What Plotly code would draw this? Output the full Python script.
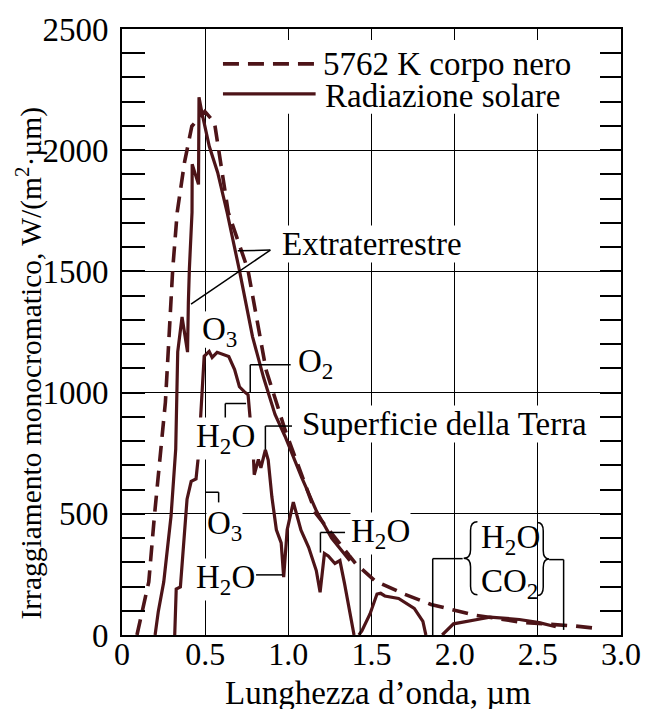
import plotly.graph_objects as go

# ---------------- data ----------------
bb_wl = [0.09, 0.123, 0.161, 0.195, 0.228, 0.261, 0.283, 0.305, 0.332, 0.376, 0.420, 0.498,
         0.556, 0.595, 0.639, 0.757, 0.827, 0.866, 0.981, 1.165, 1.405, 1.522, 1.699, 1.858,
         2.112, 2.407, 2.726, 2.845]
bb_E = [0, 96, 219, 492, 740, 961, 1233, 1510, 1744, 1951, 2099, 2160,
        2114, 1949, 1743, 1507, 1230, 1094, 845, 502, 294, 223, 168, 126,
        83, 52, 37, 28]

ext_wl = [0.199, 0.218, 0.251, 0.295, 0.323, 0.335, 0.361, 0.394, 0.399, 0.405, 0.421, 0.422,
          0.460, 0.463, 0.480, 0.525, 0.575, 0.632, 0.705, 0.785, 0.852, 0.920, 0.980, 1.080,
          1.170, 1.260, 1.370]
ext_E = [0, 96, 219, 492, 768, 1168, 1312, 1167, 1374, 1510, 1744, 1942,
         1859, 2218, 2156, 2015, 1908, 1743, 1507, 1230, 1060, 910, 820, 650,
         510, 400, 306]

sur_wl = [0.317, 0.326, 0.351, 0.370, 0.391, 0.416, 0.445, 0.459, 0.480, 0.494, 0.524, 0.542,
          0.572, 0.642, 0.677, 0.706, 0.735, 0.758, 0.790, 0.795, 0.820, 0.835, 0.862, 0.879,
          0.901, 0.928, 0.957, 0.972, 0.993, 1.030, 1.076, 1.122, 1.168, 1.191, 1.217, 1.240,
          1.280, 1.310, 1.338, 1.372, 1.395,
          None,
          1.424, 1.442, 1.491, 1.533, 1.555, 1.580, 1.663, 1.757, 1.809, 1.827,
          None,
          1.925, 1.993, 2.153, 2.212, 2.389, 2.508, 2.608]
sur_E = [0, 190, 198, 354, 560, 634, 644, 737, 960, 1150, 1170, 1145,
         1166, 1149, 1095, 1024, 1004, 991, 736, 661, 724, 690, 764, 722,
         570, 434, 380, 239, 434, 548, 432, 362, 266, 176, 336, 326,
         295, 307, 212, 87, 0,
         None,
         0, 17, 87, 169, 172, 161, 151, 110, 56, 0,
         None,
         0, 46, 66, 74, 64, 51, 34]

x_ticks = [0, 0.5, 1.0, 1.5, 2.0, 2.5, 3.0]
x_ticktext = ["0", "0.5", "1.0", "1.5", "2.0", "2.5", "3.0"]
y_ticks = [0, 500, 1000, 1500, 2000, 2500]
y_ticktext = ["0", "500", "1000", "1500", "2000", "2500"]

legend_labels = ["5762 K corpo nero", "Radiazione solare"]
x_title = "Lunghezza d’onda, µm"
y_title = "Irraggiamento monocromatico, W/(m<sup>2</sup>·µm)"

# ---------------- styling ----------------
CURVE = "#4d1418"
INK = "black"
FONT = "Liberation Serif"
FS = 33

fig = go.Figure()
fig.add_trace(go.Scatter(x=bb_wl, y=bb_E, mode="lines",
                         line=dict(color=CURVE, width=3.6, dash="16px,9px"),
                         showlegend=False, hoverinfo="skip"))
fig.add_trace(go.Scatter(x=ext_wl, y=ext_E, mode="lines",
                         line=dict(color=CURVE, width=3.2),
                         showlegend=False, hoverinfo="skip"))
fig.add_trace(go.Scatter(x=sur_wl, y=sur_E, mode="lines", connectgaps=False,
                         line=dict(color=CURVE, width=3.2),
                         showlegend=False, hoverinfo="skip"))
# invisible helper so the right-hand tick axis is drawn
fig.add_trace(go.Scatter(x=bb_wl[:1], y=bb_E[:1], yaxis="y2", mode="lines",
                         opacity=0, showlegend=False, hoverinfo="skip"))

shapes = []
def seg(x0, y0, x1, y1, w=1.5, color=INK, dash=None, layer="above"):
    d = dict(type="line", xref="x", yref="y", x0=x0, y0=y0, x1=x1, y1=y1,
             line=dict(color=color, width=w), layer=layer)
    if dash:
        d["line"]["dash"] = dash
    shapes.append(d)

def white_box(x0, x1, y0, y1):
    shapes.append(dict(type="rect", xref="x", yref="y", x0=x0, x1=x1, y0=y0, y1=y1,
                       fillcolor="white", line=dict(width=0), layer="above"))

# legend box
white_box(0.58, 2.78, 2150, 2455)
seg(0.607, 2356, 1.164, 2356, w=3.6, color=CURVE, dash="16px,9px")
seg(0.607, 2232, 1.164, 2232, w=3.2, color=CURVE)
# gap in the 0.5 grid line behind the upper O3 label
white_box(0.49, 0.51, 1185, 1335)

# Extraterrestre pointers
seg(0.892, 1588, 0.696, 1585)
seg(0.892, 1588, 0.415, 1365)
# O2 bracket
seg(0.771, 999, 0.771, 1115); seg(0.771, 1115, 1.014, 1115)
# H2O upper bracket
seg(0.621, 889, 0.621, 955); seg(0.621, 955, 0.746, 955)
# Superficie bracket
seg(0.862, 764, 0.862, 862); seg(0.862, 862, 1.022, 862)
# O3 lower bracket
seg(0.504, 589, 0.581, 589); seg(0.581, 589, 0.581, 547)
# H2O lower pointer
seg(0.806, 248, 0.965, 248)
# H2O 1.2-1.4 bracket
seg(1.193, 340, 1.193, 423); seg(1.193, 423, 1.341, 423)
seg(1.432, 0, 1.432, 318, w=1.2)
# H2O / CO2 brackets
seg(1.868, 0, 1.868, 315); seg(1.868, 315, 2.048, 315)
seg(2.568, 311, 2.655, 311); seg(2.655, 311, 2.655, 21)

def brace(x_end, x_tip, ytop, ybot, w=1.5):
    xm = (x_end + x_tip) / 2
    ym = (ytop + ybot) / 2
    k = 35
    p = (f"M {x_end},{ytop} Q {xm},{ytop} {xm},{ytop-k} L {xm},{ym+k} "
         f"Q {xm},{ym} {x_tip},{ym} Q {xm},{ym} {xm},{ym-k} L {xm},{ybot+k} "
         f"Q {xm},{ybot} {x_end},{ybot}")
    shapes.append(dict(type="path", xref="x", yref="y", path=p,
                       line=dict(color=INK, width=w), layer="above"))

brace(2.137, 2.054, 467, 166)
brace(2.497, 2.568, 464, 163)

annotations = []
def label(x, y, text, xanchor="left", yanchor="middle", bg="white", size=FS):
    a = dict(x=x, y=y, xref="x", yref="y", text=text, showarrow=False,
             xanchor=xanchor, yanchor=yanchor,
             font=dict(family=FONT, size=size, color=INK), borderpad=0)
    if bg:
        a["bgcolor"] = bg
    annotations.append(a)

label(1.201, 2356, legend_labels[0], bg=None)
label(1.215, 2222, legend_labels[1], bg=None)
label(0.953, 1612, "Extraterrestre")
label(0.472, 1252, "O<sub>3</sub>", bg=None)
label(1.053, 1122, "O<sub>2</sub>")
label(0.436, 812, "H<sub>2</sub>O")
label(1.075, 872, "Superficie della Terra")
label(0.503, 450, "O<sub>3</sub>")
label(0.436, 230, "H<sub>2</sub>O")
label(1.372, 420, "H<sub>2</sub>O")
label(2.150, 392, "H<sub>2</sub>O", bg=None)
label(2.150, 212, "CO<sub>2</sub>", bg=None)

# axis titles
annotations.append(dict(x=0.5, y=-0.095, xref="paper", yref="paper", text=x_title,
                        showarrow=False, xanchor="center", yanchor="middle",
                        xshift=6, font=dict(family=FONT, size=FS, color=INK)))
annotations.append(dict(x=-0.185, y=0.449, xref="paper", yref="paper", text=y_title,
                        showarrow=False, xanchor="center", yanchor="middle",
                        textangle=-90, font=dict(family=FONT, size=29.5, color=INK)))

fig.update_layout(
    width=653, height=709,
    margin=dict(l=122, r=23, t=28, b=74),
    paper_bgcolor="white", plot_bgcolor="white",
    font=dict(family=FONT, size=FS, color=INK),
    shapes=shapes, annotations=annotations,
    showlegend=False,
)
fig.update_xaxes(range=[0, 3.0], tickvals=x_ticks, ticktext=x_ticktext,
                 showgrid=True, gridcolor=INK, gridwidth=1.2,
                 showline=True, linecolor=INK, linewidth=2, mirror=True,
                 ticks="", zeroline=False, ticklabelstandoff=-10,
                 tickfont=dict(family=FONT, size=32))
fig.update_yaxes(range=[0, 2500], tickvals=y_ticks, ticktext=y_ticktext,
                 showgrid=True, gridcolor=INK, gridwidth=1.2,
                 showline=True, linecolor=INK, linewidth=2, mirror=True,
                 ticks="inside", ticklen=23, tickwidth=1.5, tickcolor=INK,
                 minor=dict(ticks="inside", dtick=100, ticklen=23, tickwidth=1.5,
                            tickcolor=INK, showgrid=False),
                 zeroline=False, ticklabelstandoff=5,
                 tickfont=dict(family=FONT, size=FS))
fig.update_layout(yaxis2=dict(overlaying="y", side="right", range=[0, 2500],
                              showgrid=False, zeroline=False, showticklabels=False,
                              ticks="inside", ticklen=21, tickwidth=1.5, tickcolor=INK,
                              tickvals=y_ticks,
                              minor=dict(ticks="inside", dtick=100, ticklen=21,
                                         tickwidth=1.5, tickcolor=INK, showgrid=False)))

fig.write_html("out.html", config={"displayModeBar": False},
               post_script="document.body.style.margin='0px';document.body.style.overflow='hidden';")
